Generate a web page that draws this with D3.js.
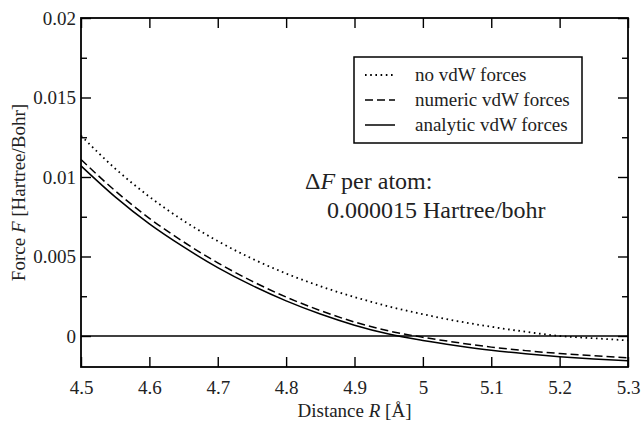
<!DOCTYPE html>
<meta charset="utf-8">
<title>force vs distance</title>
<style>
body { margin: 0; background: #fff; }
svg { font-family: "Liberation Serif", "Times New Roman", serif; }
.axis path { display: none; }
.axis line { stroke: #000; stroke-width: 1.4; }
</style>
<script src="https://d3js.org/d3.v7.min.js"></script>
<body>
<script>

// Distance R in Angstrom
var distance = [4.50, 4.55, 4.60, 4.65, 4.70, 4.75, 4.80, 4.85, 4.90, 4.95, 5.00, 5.05, 5.10, 5.15, 5.20, 5.25, 5.30];
// Force values (Hartree/Bohr)
var noVdw    = [0.0126, 0.01053, 0.00876, 0.00725, 0.00597, 0.00487, 0.00393, 0.00313, 0.00245, 0.00186, 0.00137, 0.00094, 0.00058, 0.00027, 0.0000, -0.00014, -0.00028];
var numeric  = [0.0111, 0.00913, 0.0074, 0.00592, 0.0046, 0.00345, 0.00245, 0.0016, 0.00088, 0.00032, -0.00008, -0.00041, -0.0007, -0.00092, -0.0011, -0.00124, -0.00138];
var analytic = [0.0107, 0.00875, 0.00705, 0.0056, 0.0043, 0.00318, 0.00221, 0.00138, 0.00068, 0.00012, -0.00028, -0.00061, -0.0009, -0.00112, -0.0013, -0.00144, -0.00156];

var seriesNames = ["no vdW forces", "numeric vdW forces", "analytic vdW forces"];
var xTicks = [4.5, 4.6, 4.7, 4.8, 4.9, 5.0, 5.1, 5.2, 5.3];
var yTicks = [0, 0.005, 0.01, 0.015, 0.02];
var yMinor = [0.0025, 0.0075, 0.0125, 0.0175];

var width = 642, height = 422;
// plot box (window.top is read-only, so own names)
var mLeft = 81, mRight = 628, mTop = 18, mBottom = 367;
var serif = "'Liberation Serif', 'Times New Roman', serif";

var svg = d3.select("body").append("svg")
    .attr("width", width)
    .attr("height", height);

var x = d3.scaleLinear().domain([4.5, 5.3]).range([mLeft, mRight]);
var y = d3.scaleLinear().domain([-0.00195, 0.02]).range([mBottom, mTop]);
var fmt = d3.format("~g");

function styleAxis(g) {
  g.attr("font-family", serif).attr("font-size", 19);
  g.selectAll("text").attr("fill", "#222");
}

// axes, ticks pointing inward
svg.append("g").attr("class", "axis")
    .attr("transform", "translate(0," + mBottom + ")")
    .call(d3.axisBottom(x).tickValues(xTicks).tickSize(-10).tickPadding(14).tickFormat(fmt))
    .call(styleAxis);
svg.append("g").attr("class", "axis")
    .attr("transform", "translate(0," + mTop + ")")
    .call(d3.axisTop(x).tickValues(xTicks).tickSize(-10).tickFormat(""));
svg.append("g").attr("class", "axis")
    .attr("transform", "translate(" + mLeft + ",0)")
    .call(d3.axisLeft(y).tickValues(yTicks).tickSize(-10).tickPadding(5).tickFormat(fmt))
    .call(styleAxis);
svg.append("g").attr("class", "axis")
    .attr("transform", "translate(" + mLeft + ",0)")
    .call(d3.axisLeft(y).tickValues(yMinor).tickSize(-6).tickFormat(""));
svg.append("g").attr("class", "axis")
    .attr("transform", "translate(" + mRight + ",0)")
    .call(d3.axisRight(y).tickValues(yTicks).tickSize(-10).tickFormat(""));
svg.append("g").attr("class", "axis")
    .attr("transform", "translate(" + mRight + ",0)")
    .call(d3.axisRight(y).tickValues(yMinor).tickSize(-6).tickFormat(""));

// frame
svg.append("rect")
    .attr("x", mLeft).attr("y", mTop)
    .attr("width", mRight - mLeft).attr("height", mBottom - mTop)
    .attr("fill", "none").attr("stroke", "#000").attr("stroke-width", 1.8);

// zero line
svg.append("line")
    .attr("x1", mLeft).attr("x2", mRight)
    .attr("y1", y(0)).attr("y2", y(0))
    .attr("stroke", "#000").attr("stroke-width", 1.5);

var dashes = ["1.6,3.6", "8,4", null];
var widths = [1.8, 1.5, 1.5];
var data = [noVdw, numeric, analytic];

var line = d3.line()
    .x(function(d, i) { return x(distance[i]); })
    .y(function(d) { return y(d); })
    .curve(d3.curveMonotoneX);

svg.selectAll("path.curve")
    .data(data)
  .enter().append("path")
    .attr("class", "curve")
    .attr("d", line)
    .attr("fill", "none")
    .attr("stroke", "#000")
    .attr("stroke-width", function(d, i) { return widths[i]; })
    .attr("stroke-dasharray", function(d, i) { return dashes[i]; });

// legend
svg.append("rect")
    .attr("x", 354).attr("y", 57)
    .attr("width", 228).attr("height", 86)
    .attr("fill", "#fff").attr("stroke", "#000").attr("stroke-width", 1.5);

var leg = svg.selectAll("g.leg")
    .data(seriesNames)
  .enter().append("g")
    .attr("class", "leg")
    .attr("transform", function(d, i) { return "translate(0," + (75 + i * 25) + ")"; });
leg.append("line")
    .attr("x1", 365).attr("x2", 395)
    .attr("stroke", "#000")
    .attr("stroke-width", function(d, i) { return widths[i]; })
    .attr("stroke-dasharray", function(d, i) { return dashes[i]; });
leg.append("text")
    .attr("x", 415).attr("y", 6)
    .style("font-size", "19px")
    .attr("fill", "#222")
    .text(function(d) { return d; });

// annotation
var ann = svg.append("text")
    .attr("x", 305).attr("y", 189)
    .style("font-size", "24px")
    .attr("fill", "#222");
ann.append("tspan").text("\u0394");
ann.append("tspan").style("font-style", "italic").text("F");
ann.append("tspan").text(" per atom:");
svg.append("text")
    .attr("x", 327).attr("y", 218)
    .style("font-size", "24px")
    .attr("fill", "#222")
    .text("0.000015 Hartree/bohr");

// axis titles
var xt = svg.append("text")
    .attr("x", (mLeft + mRight) / 2).attr("y", 417)
    .attr("text-anchor", "middle")
    .style("font-size", "19px")
    .attr("fill", "#222");
xt.append("tspan").text("Distance ");
xt.append("tspan").style("font-style", "italic").text("R");
xt.append("tspan").text(" [\u00c5]");

var yt = svg.append("text")
    .attr("transform", "translate(25," + ((mTop + mBottom) / 2) + ") rotate(-90)")
    .attr("text-anchor", "middle")
    .style("font-size", "19px")
    .attr("fill", "#222");
yt.append("tspan").text("Force ");
yt.append("tspan").style("font-style", "italic").text("F");
yt.append("tspan").text(" [Hartree/Bohr]");

</script>
